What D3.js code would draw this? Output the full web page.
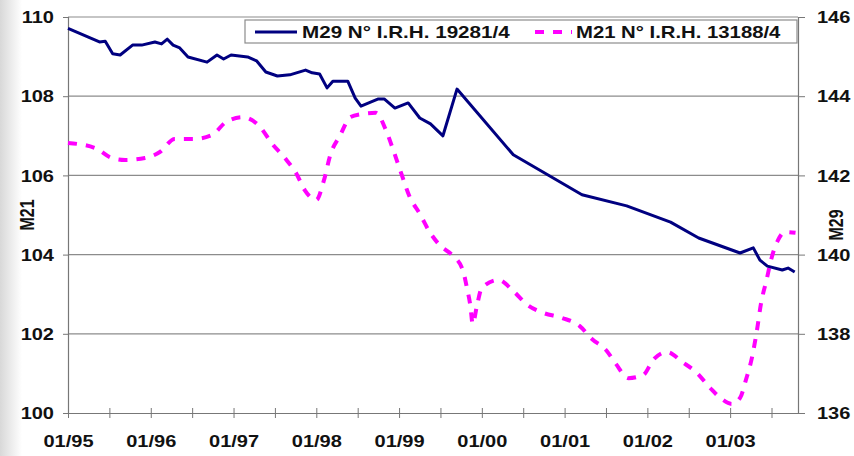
<!DOCTYPE html>
<html>
<head>
<meta charset="utf-8">
<script src="https://cdn.jsdelivr.net/npm/d3@7"></script>
<style>
  html, body { margin: 0; padding: 0; background: #fff; }
  text { font-family: "Liberation Sans", Arial, sans-serif; font-weight: bold; fill: #111; }
</style>
</head>
<body>
<div id="chart"></div>
<script>
// M29 N° I.R.H. 19281/4 (right axis, solid)
const m29Years = [1995.00, 1995.38, 1995.45, 1995.54, 1995.63, 1995.78, 1995.89, 1996.05, 1996.13, 1996.20,
  1996.27, 1996.35, 1996.45, 1996.68, 1996.80, 1996.88, 1996.97, 1997.17, 1997.28, 1997.39,
  1997.53, 1997.68, 1997.87, 1997.95, 1998.04, 1998.13, 1998.20, 1998.38, 1998.47, 1998.54,
  1998.75, 1998.82, 1998.95, 1999.11, 1999.25, 1999.38, 1999.53, 1999.70, 2000.38, 2001.21,
  2001.75, 2002.28, 2002.62, 2003.12, 2003.28, 2003.36, 2003.45, 2003.63, 2003.70, 2003.78]
const m29Values = [145.71, 145.37, 145.39, 145.07, 145.04, 145.29, 145.29, 145.37, 145.32, 145.44,
  145.29, 145.22, 144.99, 144.86, 145.04, 144.94, 145.04, 144.99, 144.89, 144.61,
  144.51, 144.54, 144.66, 144.59, 144.56, 144.21, 144.38, 144.38, 143.95, 143.75,
  143.93, 143.93, 143.70, 143.83, 143.45, 143.30, 143.00, 144.18, 142.52, 141.51,
  141.23, 140.82, 140.42, 140.04, 140.17, 139.86, 139.71, 139.61, 139.66, 139.56]

// M21 N° I.R.H. 13188/4 (left axis, dashed)
const m21Years = [1995.00, 1995.33, 1995.53, 1995.69, 1995.93, 1996.11, 1996.29, 1996.52, 1996.74, 1996.91,
  1997.11, 1997.30, 1997.47, 1997.62, 1997.76, 1997.86, 1998.00, 1998.09, 1998.17, 1998.29,
  1998.41, 1998.55, 1998.72, 1998.84, 1998.93, 1999.02, 1999.13, 1999.25, 1999.37, 1999.50,
  1999.64, 1999.77, 1999.82, 1999.86, 1999.89, 1999.94, 2000.00, 2000.20, 2000.38, 2000.55,
  2000.74, 2000.97, 2001.18, 2001.33, 2001.50, 2001.62, 2001.77, 2001.95, 2002.07, 2002.24,
  2002.42, 2002.60, 2002.76, 2002.90, 2003.02, 2003.12, 2003.19, 2003.27, 2003.33, 2003.37,
  2003.44, 2003.50, 2003.58, 2003.66, 2003.79]
const m21Values = [106.82, 106.69, 106.44, 106.39, 106.44, 106.59, 106.92, 106.92, 107.02, 107.35,
  107.47, 107.27, 106.79, 106.44, 106.04, 105.63, 105.38, 105.86, 106.52, 107.02,
  107.47, 107.55, 107.58, 107.15, 106.64, 106.09, 105.45, 105.03, 104.57, 104.22,
  103.99, 103.61, 103.16, 102.73, 102.25, 102.70, 103.16, 103.36, 103.08, 102.73,
  102.53, 102.40, 102.20, 101.87, 101.59, 101.24, 100.88, 100.96, 101.34, 101.54,
  101.29, 101.01, 100.63, 100.35, 100.23, 100.38, 100.83, 101.46, 102.17, 102.73,
  103.36, 103.91, 104.37, 104.57, 104.55]

const leftTicks = [100, 102, 104, 106, 108, 110]
const rightTicks = [136, 138, 140, 142, 144, 146]
const yearTicks = [1995, 1996, 1997, 1998, 1999, 2000, 2001, 2002, 2003]
const halfTicks = [1995.5, 1996.5, 1997.5, 1998.5, 1999.5, 2000.5, 2001.5, 2002.5, 2003.5]
const yearLabels = ['01/95', '01/96', '01/97', '01/98', '01/99', '01/00', '01/01', '01/02', '01/03']
const seriesNames = ['M29 N° I.R.H. 19281/4', 'M21 N° I.R.H. 13188/4']

const W = 854
const H = 456
const plot = { left: 68, right: 798, top: 17, bottom: 413 }
const stretch = 'scale(1.25,1)'

const svg = d3.select('#chart').append('svg')
  .attr('width', W)
  .attr('height', H)

// faint shadow at the left edge of the slide
const grad = svg.append('defs').append('linearGradient')
  .attr('id', 'edge')
grad.append('stop').attr('offset', '0%').attr('stop-color', '#d8d8d8')
grad.append('stop').attr('offset', '100%').attr('stop-color', '#ffffff')
svg.append('rect')
  .attr('x', 0).attr('y', 0)
  .attr('width', 22).attr('height', H)
  .attr('fill', 'url(#edge)')

const x = d3.scaleLinear([1995, 2003.82], [plot.left, plot.right])
const yL = d3.scaleLinear([100, 110], [plot.bottom, plot.top])
const yR = d3.scaleLinear([136, 146], [plot.bottom, plot.top])

// gridlines
svg.append('g')
  .selectAll('line')
  .data(leftTicks.slice(1))
  .join('line')
  .attr('x1', plot.left)
  .attr('x2', plot.right)
  .attr('y1', d => yL(d))
  .attr('y2', d => yL(d))
  .attr('stroke', '#8c8c8c')
  .attr('stroke-width', 1.2)

// left axis
const leftAxis = svg.append('g')
  .attr('transform', `translate(${plot.left},0)`)
  .call(d3.axisLeft(yL).tickValues(leftTicks).tickSize(5).tickFormat(d3.format('d')))
leftAxis.select('.domain').attr('stroke', '#777').attr('stroke-width', 1.2)
leftAxis.selectAll('.tick line').attr('stroke', '#777')
leftAxis.selectAll('.tick text')
  .attr('x', 0).attr('dy', '0.36em')
  .attr('transform', 'translate(-14,0) ' + stretch)
  .style('font-size', '16px')

// right axis
const rightAxis = svg.append('g')
  .attr('transform', `translate(${plot.right},0)`)
  .call(d3.axisRight(yR).tickValues(rightTicks).tickSize(7).tickFormat(d3.format('d')))
rightAxis.select('.domain').attr('stroke', '#777').attr('stroke-width', 1.2)
rightAxis.selectAll('.tick line').attr('stroke', '#777')
rightAxis.selectAll('.tick text')
  .attr('x', 0).attr('dy', '0.36em')
  .attr('transform', 'translate(19,0) ' + stretch)
  .style('font-size', '16px')

// bottom axis
const bottomAxis = svg.append('g')
  .attr('transform', `translate(0,${plot.bottom})`)
  .call(d3.axisBottom(x).tickValues(yearTicks.concat(halfTicks)).tickSize(0)
    .tickFormat(d => yearTicks.includes(d) ? yearLabels[yearTicks.indexOf(d)] : ''))
bottomAxis.select('.domain').attr('stroke', '#777').attr('stroke-width', 1.2)
bottomAxis.selectAll('.tick line').attr('y1', -5).attr('y2', 5).attr('stroke', '#777')
bottomAxis.selectAll('.tick text')
  .attr('y', 0).attr('dy', 0)
  .attr('transform', 'translate(0,34) ' + stretch)
  .style('font-size', '16px')

// axis titles
svg.append('text')
  .attr('transform', `translate(34,${(plot.top + plot.bottom) / 2}) rotate(-90) scale(1,1.25)`)
  .attr('text-anchor', 'middle')
  .style('font-size', '16px')
  .text('M21')
svg.append('text')
  .attr('transform', `translate(843,${(plot.top + plot.bottom) / 2 + 10}) rotate(-90) scale(1,1.25)`)
  .attr('text-anchor', 'middle')
  .style('font-size', '16px')
  .text('M29')

// series
const m29Line = d3.line()
  .x(i => x(m29Years[i]))
  .y(i => yR(m29Values[i]))
const m21Line = d3.line()
  .x(i => x(m21Years[i]))
  .y(i => yL(m21Values[i]))
  .curve(d3.curveMonotoneX)

svg.append('path')
  .datum(d3.range(m21Years.length))
  .attr('fill', 'none')
  .attr('stroke', '#ff00ff')
  .attr('stroke-width', 4)
  .attr('stroke-dasharray', '9,9')
  .attr('d', m21Line)

svg.append('path')
  .datum(d3.range(m29Years.length))
  .attr('fill', 'none')
  .attr('stroke', '#000080')
  .attr('stroke-width', 3)
  .attr('stroke-linejoin', 'round')
  .attr('d', m29Line)

// legend
const legend = svg.append('g')
legend.append('rect')
  .attr('x', 245).attr('y', 20)
  .attr('width', 552).attr('height', 23)
  .attr('fill', '#fff')
  .attr('stroke', '#8c8c8c')
  .attr('stroke-width', 1.2)
legend.append('line')
  .attr('x1', 255).attr('x2', 297)
  .attr('y1', 32).attr('y2', 32)
  .attr('stroke', '#000080').attr('stroke-width', 3)
legend.append('text')
  .attr('transform', 'translate(302,38) scale(1.29,1)')
  .style('font-size', '16px')
  .text(seriesNames[0])
legend.append('line')
  .attr('x1', 535).attr('x2', 572)
  .attr('y1', 32).attr('y2', 32)
  .attr('stroke', '#ff00ff').attr('stroke-width', 4)
  .attr('stroke-dasharray', '9,9')
legend.append('text')
  .attr('transform', 'translate(576,38) scale(1.27,1)')
  .style('font-size', '16px')
  .text(seriesNames[1])
</script>
</body>
</html>
